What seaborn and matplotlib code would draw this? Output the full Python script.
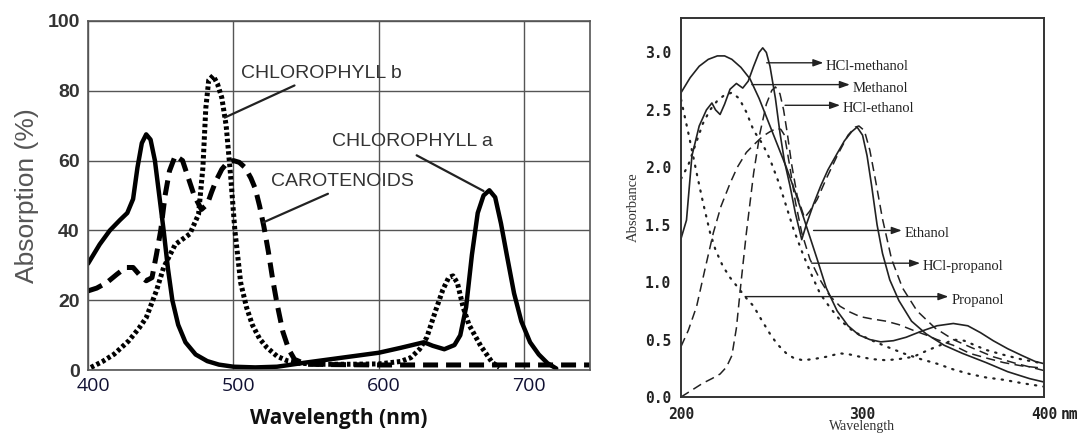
import matplotlib
matplotlib.use("Agg")
import matplotlib.pyplot as plt
from matplotlib.transforms import ScaledTranslation
import seaborn as sns

sns.set_theme(style="white")
plt.rcParams['font.family'] = ['Liberation Sans', 'DejaVu Sans']

# ---------------- Left: pigment absorption spectra (%) ----------------
chl_a_nm = [400, 408, 415, 422, 427, 431, 434, 437, 440, 443, 446, 449, 452, 455,
            458, 462, 467, 474, 482, 490, 500, 515, 530, 550, 575, 600, 615, 625,
            631, 637, 645, 652, 656, 660, 664, 668, 672, 676, 680, 684, 688, 693,
            698, 704, 710, 716, 722]
chl_a_abs = [30.5, 36, 40, 43, 45, 49, 58, 65, 67.5, 66, 60, 50, 40, 29,
             20, 13, 8, 4.5, 2.6, 1.6, 1.0, 0.8, 1.0, 2.2, 3.6, 5, 6.4, 7.4,
             8.0, 7, 6, 7.2, 10, 18, 33, 45, 50, 51.5, 49.5, 42, 33, 22,
             14, 8, 4.5, 2.0, 0.5]

chl_b_nm = [402, 410, 418, 428, 435, 440, 447, 452, 460, 470, 476, 479, 481, 483,
            486, 489, 492, 495, 498, 501, 505, 509, 513, 518, 523, 530, 537, 545,
            560, 580, 600, 615, 622, 628, 633, 639, 644, 648, 651, 654, 658, 662,
            666, 670, 674, 678, 683]
chl_b_abs = [0.8, 2.5, 4.6, 8.4, 12, 15, 22.7, 29.4, 36, 39, 44.6, 58, 75, 83,
             84.3, 82, 78, 70, 56, 40, 25, 18, 13, 9, 6.5, 4, 2.7, 2,
             1.7, 1.7, 1.8, 2.5, 3.6, 6, 9.4, 17, 23, 26.5, 27, 25, 18, 13,
             10, 7, 4.6, 2.2, 0.8]

car_nm = [400, 406, 413, 420, 426, 431, 436, 440, 444, 447, 450, 453, 456, 460,
          465, 469, 473, 478, 482, 485, 488, 492, 496, 500, 504, 508, 512, 515,
          518, 521, 524, 527, 530, 534, 538, 542, 550, 570, 600, 650, 700, 745]
car_abs = [22.7, 23.5, 25.1, 27.5, 29.4, 29.4, 27, 25.6, 26.5, 33, 40, 50, 57, 61.4,
           60, 55, 50, 46, 47.5, 51, 54.2, 57.5, 59.5, 60, 59.5, 58, 55, 52,
           47, 41, 34, 26, 19, 11, 6, 3.1, 1.7, 1.6, 1.5, 1.5, 1.5, 1.5]

pigment_labels = ["CHLOROPHYLL b", "CHLOROPHYLL a", "CAROTENOIDS"]
pigment_text_xy = [(505, 82.5), (568, 63), (526, 51.5)]
pigment_line_from = [(542, 81.5), (626, 61.5), (565, 50.5)]
pigment_line_to = [(494, 72.3), (672, 51.3), (520.5, 42.3)]

# ---------------- Right: solvent absorbance spectra ----------------
methanol_nm = [200, 205, 210, 215, 220, 224, 228, 233, 238, 243, 248, 253, 258,
               263, 269, 275, 280, 286, 292, 298, 304, 310, 317, 324, 332, 341,
               350, 358, 365, 372, 380, 388, 395, 400]
methanol_abs = [2.65, 2.78, 2.88, 2.94, 2.97, 2.97, 2.94, 2.87, 2.77, 2.6, 2.4,
                2.2, 2.0, 1.78, 1.49, 1.2, 0.95, 0.75, 0.62, 0.54, 0.5, 0.48,
                0.49, 0.52, 0.57, 0.62, 0.64, 0.62, 0.56, 0.49, 0.42, 0.36,
                0.31, 0.29]

hcl_methanol_nm = [200, 203, 206, 210, 214, 217, 219, 221.5, 224, 227, 230.5, 234,
                   237, 240, 243, 245, 247, 249, 252, 254.5, 257, 260, 263, 266.5,
                   269, 273, 277, 281, 286, 290, 294, 297, 300, 302.5, 305, 308,
                   311, 315, 320, 327, 335, 345, 355, 368, 380, 392, 400]
hcl_methanol_abs = [1.38, 1.54, 2.1, 2.36, 2.5, 2.56, 2.5, 2.46, 2.55, 2.68, 2.73,
                    2.69, 2.75, 2.88, 3.0, 3.04, 3.0, 2.88, 2.6, 2.3, 2.05, 1.84,
                    1.6, 1.37, 1.5, 1.68, 1.84, 1.98, 2.12, 2.23, 2.31, 2.35, 2.28,
                    2.1, 1.84, 1.5, 1.25, 1.02, 0.84, 0.66, 0.55, 0.45, 0.38, 0.3,
                    0.22, 0.16, 0.13]

hcl_ethanol_nm = [200, 206, 212, 217, 221.5, 225, 228, 230.5, 233, 236, 240, 243.5,
                  247, 250, 252, 254.5, 256.5, 258.5, 261, 264, 268, 271, 275,
                  280, 286, 292, 296, 298, 301, 304, 307, 311, 316, 322, 330, 340,
                  350, 360, 372, 385, 400]
hcl_ethanol_abs = [0.0, 0.06, 0.12, 0.16, 0.2, 0.26, 0.36, 0.6, 0.99, 1.43, 1.95,
                   2.3, 2.55, 2.67, 2.7, 2.64, 2.5, 2.3, 2.02, 1.75, 1.56, 1.62,
                   1.72, 1.9, 2.1, 2.28, 2.35, 2.36, 2.32, 2.15, 1.9, 1.55, 1.2,
                   0.95, 0.75, 0.6, 0.5, 0.43, 0.35, 0.29, 0.23]

ethanol_nm = [200, 204, 208.6, 213, 217.8, 222, 227, 231, 236, 241, 245, 249,
              252.7, 255, 257, 260, 263, 266.5, 271, 276.6, 282, 287.6, 293,
              298.6, 305, 313, 320, 328, 335, 341, 350, 359, 368, 377.6, 388, 400]
ethanol_abs = [0.44, 0.58, 0.79, 1.1, 1.43, 1.66, 1.86, 2.0, 2.13, 2.21, 2.27,
               2.31, 2.34, 2.33, 2.28, 2.0, 1.7, 1.43, 1.2, 1.02, 0.88, 0.79,
               0.74, 0.7, 0.68, 0.66, 0.63, 0.58, 0.54, 0.5, 0.45, 0.38, 0.34,
               0.3, 0.27, 0.25]

propanol_nm = [200, 204, 208.6, 212, 216, 219, 223, 227, 232.5, 236, 240, 244,
               249, 253, 258, 262, 267, 273, 280, 287.6, 293, 298.6, 305, 313,
               320, 328, 335, 341, 346, 350, 356, 362, 368, 377, 387, 400]
propanol_abs = [2.59, 2.3, 1.95, 1.7, 1.43, 1.28, 1.14, 1.04, 0.93, 0.86, 0.79,
                0.68, 0.55, 0.46, 0.38, 0.34, 0.32, 0.33, 0.35, 0.38, 0.37, 0.35,
                0.33, 0.32, 0.33, 0.35, 0.4, 0.44, 0.47, 0.5, 0.49, 0.45, 0.41,
                0.37, 0.33, 0.29]

hcl_propanol_nm = [200, 204, 208, 212, 216, 220, 224, 228, 232, 236, 240, 245,
                   249, 254, 258, 262, 267, 272, 276.6, 282, 287.6, 295, 304, 313,
                   322.5, 332, 341, 350, 359, 368, 377.6, 388, 400]
hcl_propanol_abs = [1.9, 2.02, 2.2, 2.38, 2.5, 2.58, 2.63, 2.65, 2.6, 2.48, 2.32,
                    2.2, 2.07, 1.86, 1.66, 1.46, 1.25, 1.06, 0.9, 0.78, 0.67, 0.57,
                    0.5, 0.44, 0.38, 0.33, 0.29, 0.24, 0.2, 0.17, 0.15, 0.12, 0.09]

solvent_labels = ["HCl-methanol", "Methanol", "HCl-ethanol",
                  "Ethanol", "HCl-propanol", "Propanol"]
arrow_start = [(247.2, 2.91), (239.0, 2.72), (257.3, 2.54),
               (273.0, 1.45), (272.0, 1.165), (235.3, 0.874)]
arrow_end = [278.4, 293.0, 287.6, 321.6, 331.7, 347.3]

fig = plt.figure(figsize=(10.8, 4.34), dpi=100)
fig.patch.set_facecolor("white")

# ---------- left panel ----------
ax1 = fig.add_axes([0.0815, 0.147, 0.4645, 0.805])
sns.lineplot(x=chl_a_nm, y=chl_a_abs, ax=ax1, color="black", linewidth=3.2,
             sort=False, estimator=None, solid_capstyle="round")
sns.lineplot(x=chl_b_nm, y=chl_b_abs, ax=ax1, color="black", linewidth=3.6,
             linestyle=(0, (0.7, 0.55)), sort=False, estimator=None)
sns.lineplot(x=car_nm, y=car_abs, ax=ax1, color="black", linewidth=3.6,
             linestyle=(0, (3.0, 1.6)), sort=False, estimator=None)

ax1.set_xlim(400, 745)
ax1.set_ylim(0, 100)
ax1.set_xticks([400, 500, 600, 700])
ax1.set_yticks([0, 20, 40, 60, 80, 100])
ax1.grid(True, color="#555555", linewidth=1.0)
ax1.set_axisbelow(True)
for s in ax1.spines.values():
    s.set_color("#555555")
    s.set_linewidth(1.2)
ax1.tick_params(axis="both", length=0)
ax1.tick_params(axis="y", labelsize=14, labelcolor="#333333", pad=6)
ax1.tick_params(axis="x", labelsize=14, labelcolor="#111133", pad=5)
for t in ax1.get_yticklabels():
    t.set_fontweight("bold")
shift_right = ScaledTranslation(5 / 100, 0, fig.dpi_scale_trans)
for t in ax1.get_xticklabels():
    t.set_family(["Open Sans", "DejaVu Sans"])
    t.set_transform(t.get_transform() + shift_right)
ax1.set_ylabel("Absorption (%)", fontsize=19, color="#555555", labelpad=6)
ax1.set_xlabel("Wavelength (nm)", fontsize=15, fontweight="bold",
               family=["Open Sans", "DejaVu Sans"], color="#111111", labelpad=9)

for label, txy, p0, p1 in zip(pigment_labels, pigment_text_xy,
                              pigment_line_from, pigment_line_to):
    ax1.text(txy[0], txy[1], label, fontsize=14, color="#333333",
             family=["Liberation Sans Narrow", "Liberation Sans"],
             ha="left", va="bottom")
    ax1.annotate("", xy=p1, xytext=p0,
                 arrowprops=dict(arrowstyle="-", color="#222222", lw=1.6,
                                 shrinkA=0, shrinkB=0))

# ---------- right panel ----------
ax2 = fig.add_axes([0.6306, 0.0853, 0.3361, 0.8732])
solid = dict(color="#222222", linewidth=1.2, sort=False, estimator=None)
dashed = dict(color="#222222", linewidth=1.1, linestyle=(0, (6, 3.5)),
              sort=False, estimator=None)
dotted = dict(color="#222222", linewidth=1.6, linestyle=(0, (0.6, 3.2)),
              sort=False, estimator=None, dash_capstyle="round")
sns.lineplot(x=methanol_nm, y=methanol_abs, ax=ax2, **solid)
sns.lineplot(x=hcl_methanol_nm, y=hcl_methanol_abs, ax=ax2, **solid)
sns.lineplot(x=hcl_ethanol_nm, y=hcl_ethanol_abs, ax=ax2, **dashed)
sns.lineplot(x=ethanol_nm, y=ethanol_abs, ax=ax2, **dashed)
sns.lineplot(x=propanol_nm, y=propanol_abs, ax=ax2, **dotted)
sns.lineplot(x=hcl_propanol_nm, y=hcl_propanol_abs, ax=ax2, **dotted)

ax2.set_xlim(200, 400)
ax2.set_ylim(0, 3.3)
ax2.set_xticks([200, 300, 400])
ax2.set_xticklabels(["200", "300", "400"])
ax2.set_yticks([0, 0.5, 1.0, 1.5, 2.0, 2.5, 3.0])
ax2.set_yticklabels(["0.0", "0.5", "1.0", "1.5", "2.0", "2.5", "3.0"])
for s in ax2.spines.values():
    s.set_color("#333333")
    s.set_linewidth(1.4)
ax2.tick_params(axis="both", direction="out", length=5, width=1.3,
                color="#333333", labelsize=10.5, labelcolor="#222222")
ax2.tick_params(axis="y", pad=2)
ax2.tick_params(axis="x", pad=2)
for t in ax2.get_xticklabels() + ax2.get_yticklabels():
    t.set_family(["DejaVu Sans Mono"])
    t.set_fontweight("bold")
# unit written after the last wavelength tick
ax2.annotate("nm", xy=(1, 0), xycoords="axes fraction",
             xytext=(12, -7), textcoords="offset points",
             ha="left", va="top", fontsize=10.5, fontweight="bold",
             family=["DejaVu Sans Mono"], color="#222222",
             annotation_clip=False)
ax2.set_ylabel("Absorbance", fontsize=10.5, family=["Liberation Serif"],
               color="#333333", labelpad=4)
ax2.set_xlabel("Wavelength", fontsize=10, family=["Liberation Serif"],
               color="#333333", labelpad=-1)

for label, (x0, y0), x1 in zip(solvent_labels, arrow_start, arrow_end):
    ax2.annotate("", xy=(x1, y0), xytext=(x0, y0),
                 arrowprops=dict(arrowstyle="-|>,head_length=0.5,head_width=0.18",
                                 color="#222222", lw=1.0, shrinkA=0, shrinkB=0))
    ax2.text(x1 + 1.5, y0 - 0.03, label, fontsize=10.5,
             family=["Liberation Serif"], color="#222222",
             ha="left", va="center")

fig.savefig("out.png", dpi=100, facecolor="white")
